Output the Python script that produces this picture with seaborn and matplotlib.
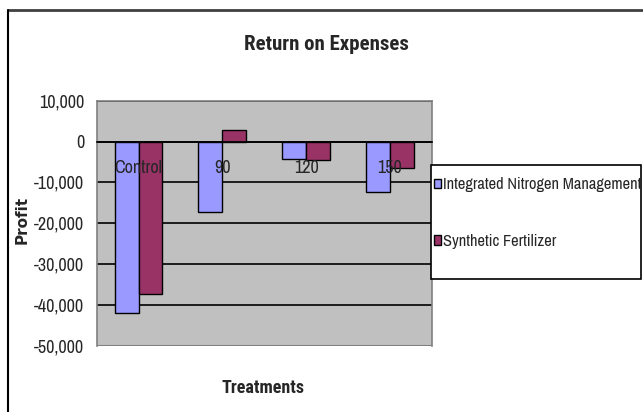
import pandas as pd
import seaborn as sns
import matplotlib.pyplot as plt
from matplotlib.lines import Line2D
from matplotlib.patches import Rectangle
from matplotlib.ticker import FuncFormatter

# Data
treatments = ['Control', '90', '120', '150']
inm_profit = [-42000, -17300, -4200, -12400]
synthetic_profit = [-37300, 2900, -4500, -6500]
series_names = ['Integrated Nitrogen Management', 'Synthetic Fertilizer']
y_ticks = [10000, 0, -10000, -20000, -30000, -40000, -50000]

df = pd.DataFrame({
    'treatment': treatments * 2,
    'profit': inm_profit + synthetic_profit,
    'series': [series_names[0]] * 4 + [series_names[1]] * 4,
})

sns.set_style('white')
plt.rcParams['font.family'] = ['Arial Narrow', 'Liberation Sans Narrow', 'Archivo Narrow',
                               'PT Sans Narrow', 'Roboto Condensed', 'Liberation Sans']

fig = plt.figure(figsize=(6.43, 4.12), dpi=100)
ax = fig.add_axes([0.1504, 0.161, 0.521, 0.5946])
ax.set_facecolor('#C0C0C0')

sns.barplot(data=df, x='treatment', y='profit', hue='series',
            palette=['#9999FF', '#993366'], edgecolor='black', linewidth=1,
            width=0.57, saturation=1, ax=ax)
ax.get_legend().remove()

ax.set_xlim(-0.5, 3.5)
ax.set_ylim(-50000, 10000)
ax.set_yticks(y_ticks)
ax.yaxis.set_major_formatter(FuncFormatter(lambda v, p: f'{int(v):,}'))
ax.tick_params(axis='y', length=0, pad=9, labelsize=13)
ax.grid(axis='y', color='black', linewidth=1.2)
ax.set_axisbelow(True)

# category axis on the zero line, labels drawn over the bars
ax.spines['bottom'].set_position(('data', 0))
ax.spines['bottom'].set_color('black')
ax.spines['bottom'].set_linewidth(1.2)
ax.spines['bottom'].set_zorder(3)
ax.set_xticks([0.5, 1.5, 2.5], minor=True)
ax.tick_params(axis='x', which='major', length=0, labelbottom=False)
ax.tick_params(axis='x', which='minor', length=5, direction='in', width=1, color='black')
for i, t in enumerate(treatments):
    ax.annotate(t, xy=(i, 0), xytext=(0, -19), textcoords='offset points',
                ha='center', va='center', fontsize=13, zorder=6)
for side in ['left', 'top', 'right']:
    ax.spines[side].set_color('#808080')
    ax.spines[side].set_linewidth(1.2)
ax.axhline(-50000, color='#808080', linewidth=1.5, zorder=5)

ax.set_xlabel('')
ax.set_ylabel('')

fig.text(326 / 643, 1 - 45 / 412, 'Return on Expenses', ha='center', va='center',
         fontsize=15, fontweight='bold', family=['Roboto Condensed', 'Liberation Sans'])
fig.text(263 / 643, 1 - 388 / 412, 'Treatments', ha='center', va='center',
         fontsize=13, fontweight='bold', family=['Roboto Condensed', 'Liberation Sans'])
fig.text(22 / 643, 1 - 220 / 412, 'Profit', ha='center', va='center', rotation=90,
         fontsize=11, fontweight='bold', family='DejaVu Sans')

# legend box drawn separately (it is taller than the entries need)
fig.add_artist(Rectangle((430.7 / 643, 1 - 279 / 412), 210.5 / 643, 114 / 412,
                         transform=fig.transFigure, facecolor='white',
                         edgecolor='black', linewidth=1.2, zorder=8))
handles, labels = ax.get_legend_handles_labels()
leg = fig.legend(handles, labels, loc='upper left',
                 bbox_to_anchor=(430.7 / 643, 1 - 174 / 412),
                 fontsize=11.8, frameon=False,
                 borderaxespad=0, handlelength=0.45, handleheight=0.55,
                 handletextpad=0.1, labelspacing=2.55, borderpad=0.2)
leg.set_zorder(9)

# outer frame (top and left only)
fig.add_artist(Line2D([8 / 643, 1], [1 - 10 / 412, 1 - 10 / 412], color='#404040', linewidth=2))
fig.add_artist(Line2D([8 / 643, 8 / 643], [0, 1 - 10 / 412], color='black', linewidth=1.5))

fig.savefig('out.png', dpi=100)
